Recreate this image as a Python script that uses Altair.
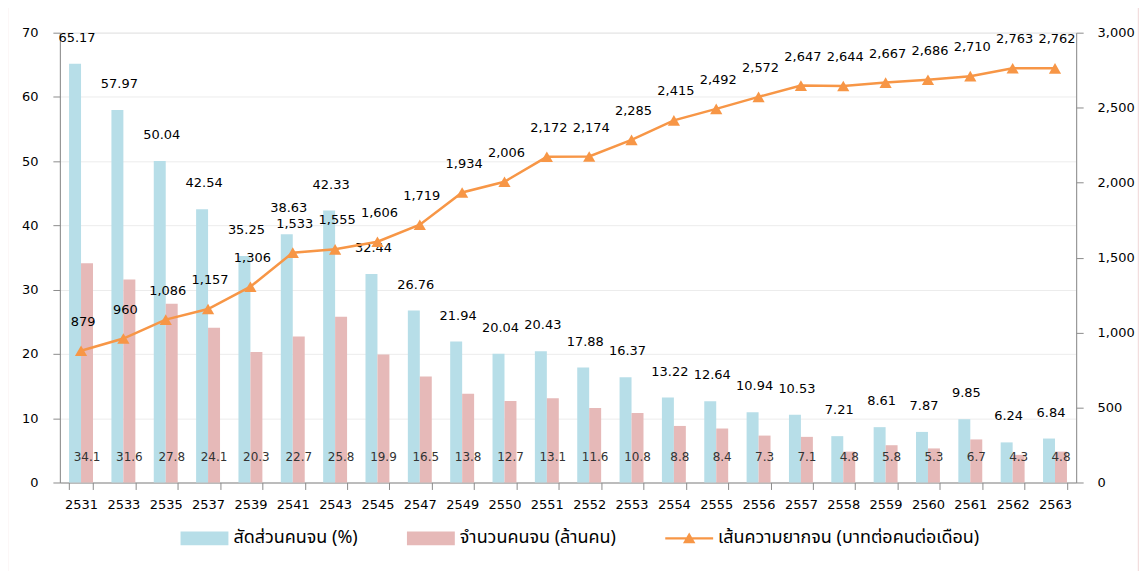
import altair as alt
import pandas as pd

years = ["2531", "2533", "2535", "2537", "2539", "2541", "2543", "2545", "2547", "2549",
         "2550", "2551", "2552", "2553", "2554", "2555", "2556", "2557", "2558", "2559",
         "2560", "2561", "2562", "2563"]
poor_share = [65.17, 57.97, 50.04, 42.54, 35.25, 38.63, 42.33, 32.44, 26.76, 21.94,
              20.04, 20.43, 17.88, 16.37, 13.22, 12.64, 10.94, 10.53, 7.21, 8.61,
              7.87, 9.85, 6.24, 6.84]
poor_count = [34.1, 31.6, 27.8, 24.1, 20.3, 22.7, 25.8, 19.9, 16.5, 13.8,
              12.7, 13.1, 11.6, 10.8, 8.8, 8.4, 7.3, 7.1, 4.8, 5.8,
              5.3, 6.7, 4.3, 4.8]
poverty_line = [879, 960, 1086, 1157, 1306, 1533, 1555, 1606, 1719, 1934,
                2006, 2172, 2174, 2285, 2415, 2492, 2572, 2647, 2644, 2667,
                2686, 2710, 2763, 2762]

series = ["สัดส่วนคนจน (%)", "จำนวนคนจน (ล้านคน)", "เส้นความยากจน (บาทต่อคนต่อเดือน)"]
colors = ["#B7DEE8", "#E6B9B8", "#F79646"]

FONT = "DejaVu Sans"
THAI_FONT = "Noto Sans Thai, Tahoma, Loma, Garuda, Noto Sans, DejaVu Sans, sans-serif"

bars_df = pd.DataFrame(
    [{"year": y, "series": series[0], "value": v} for y, v in zip(years, poor_share)]
    + [{"year": y, "series": series[1], "value": v} for y, v in zip(years, poor_count)]
)
share_df = pd.DataFrame({"year": years, "value": poor_share})
count_df = pd.DataFrame({"year": years, "value": poor_count})
line_df = pd.DataFrame({"year": years, "value": poverty_line, "series": series[2]})
legend_df = pd.DataFrame({"series": series})

W, H = 1019, 451

x_axis = alt.Axis(title=None, labelAngle=0, tickBand="extent", domainColor="#8c8c8c",
                  tickColor="#8c8c8c", tickSize=7, labelFontSize=13, labelFont=FONT,
                  labelColor="#000000", labelPadding=9, grid=False)
x_enc = alt.X("year:N", sort=years,
              scale=alt.Scale(paddingInner=0.435, paddingOuter=0.2175),
              axis=x_axis)

color_scale = alt.Scale(domain=series, range=colors)
shape_scale = alt.Scale(
    domain=series,
    range=["M-1,-0.29H1V0.29H-1Z",
           "M-1,-0.29H1V0.29H-1Z",
           "M-1,-0.05H1V0.05H-1Z M0,-0.24L0.26,0.2L-0.26,0.2Z"],
)

legend_kw = dict(
    title=None, orient="none", legendX=121, legendY=483, direction="horizontal",
    columns=3, symbolSize=2304, labelFont=THAI_FONT, labelFontSize=18,
    labelColor="#000000", labelOffset=5, columnPadding=49, labelLimit=400,
    padding=0, symbolStrokeWidth=0,
)

# decorative outer border
border = alt.Chart(legend_df).mark_rect(
    fill=None, stroke="#F2DEDE", strokeWidth=1.5, clip=False
).encode(
    x=alt.value(-52.5), x2=alt.value(1081.5), y=alt.value(-27), y2=alt.value(560)
).transform_filter("datum.series == '%s'" % series[0])

dummy_legend = alt.Chart(legend_df).mark_point(filled=True, size=2304, opacity=1).encode(
    color=alt.Color("series:N", scale=color_scale, legend=alt.Legend(**legend_kw)),
    shape=alt.Shape("series:N", scale=shape_scale, legend=alt.Legend(**legend_kw)),
).transform_filter("false")

y_left = alt.Y("value:Q", scale=alt.Scale(domain=[0, 70], nice=False),
               axis=alt.Axis(title=None, values=list(range(0, 71, 10)), grid=True,
                             gridColor="#ECECEC", domainColor="#8c8c8c", tickColor="#8c8c8c",
                             tickSize=7, labelFontSize=13, labelFont=FONT,
                             labelColor="#000000", labelPadding=15))

bars = alt.Chart(bars_df).mark_bar().encode(
    x=x_enc,
    xOffset=alt.XOffset("series:N", sort=series[:2],
                        scale=alt.Scale(paddingInner=0, paddingOuter=0)),
    y=y_left,
    color=alt.Color("series:N", scale=color_scale, legend=None),
)

share_labels = alt.Chart(share_df).mark_text(
    font=FONT, fontSize=13, color="#000000", dx=-4, dy=-26, baseline="middle"
).encode(
    x=alt.X("year:N", sort=years),
    y=alt.Y("value:Q"),
    text=alt.Text("value:Q", format=".2f"),
)

count_labels = alt.Chart(count_df).mark_text(
    font=FONT, fontSize=12, color="#333333", dx=6, baseline="middle"
).encode(
    x=alt.X("year:N", sort=years),
    y=alt.datum(4),
    text=alt.Text("value:Q", format=".1f"),
)

left = alt.layer(dummy_legend, bars, share_labels, count_labels)

y_right = alt.Y("value:Q", scale=alt.Scale(domain=[0, 3000], nice=False),
                axis=alt.Axis(title=None, orient="right", values=list(range(0, 3001, 500)),
                              format=",.0f", grid=False, domainColor="#8c8c8c",
                              tickColor="#8c8c8c", tickSize=7, labelFontSize=13,
                              labelFont=FONT, labelColor="#000000", labelPadding=14))

line = alt.Chart(line_df).mark_line(color=colors[2], strokeWidth=2.5).encode(
    x=alt.X("year:N", sort=years), y=y_right
)
points = alt.Chart(line_df).mark_point(
    shape="triangle-up", filled=True, size=150, color=colors[2], opacity=1
).encode(x=alt.X("year:N", sort=years), y=alt.Y("value:Q"))
line_labels = alt.Chart(line_df).mark_text(
    font=FONT, fontSize=13, color="#000000", dx=2, dy=-29, baseline="middle"
).encode(
    x=alt.X("year:N", sort=years),
    y=alt.Y("value:Q"),
    text=alt.Text("value:Q", format=",.0f"),
)

right = alt.layer(line, points, line_labels)

chart = alt.layer(border, left, right).resolve_scale(y="independent").properties(
    width=W, height=H,
    autosize=alt.AutoSizeParams(type="none"),
    padding={"left": 52, "top": 24, "right": 63, "bottom": 88},
).configure_view(stroke=None).configure(background="white")

chart.save("out.html", embed_options={"renderer": "svg", "actions": False})
